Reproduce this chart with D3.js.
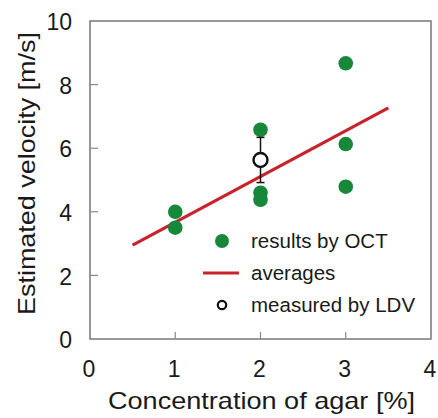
<!DOCTYPE html>
<html>
<head>
<meta charset="utf-8">
<script src="https://cdn.jsdelivr.net/npm/d3@7"></script>
<style>
  body { margin: 0; background: #fff; }
  text { font-family: "Liberation Sans", Arial, sans-serif; fill: #1a1a1a; }
</style>
</head>
<body>
<div id="chart"></div>
<script>
// OCT results (concentration %, velocity m/s)
const octX = [1, 1, 2, 2, 2, 3, 3, 3];
const octY = [4.0, 3.5, 6.58, 4.6, 4.38, 8.67, 6.13, 4.79];

// averages fit line endpoints
const avgX = [0.5, 3.5];
const avgY = [2.95, 7.27];

// LDV measurement with error bar
const ldvX = [2];
const ldvY = [5.63];
const ldvLo = [4.92];
const ldvHi = [6.34];

const xTicks = [0, 1, 2, 3, 4];
const yTicks = [0, 2, 4, 6, 8, 10];
const legendLabels = ["results by OCT", "averages", "measured by LDV"];

const width = 438, height = 418;
const margin = {left: 90, top: 21, right: 7, bottom: 79};

const svg = d3.select("#chart").append("svg")
  .attr("width", width)
  .attr("height", height);

const x = d3.scaleLinear().domain([0, 4]).range([margin.left, width - margin.right]);
const y = d3.scaleLinear().domain([0, 10]).range([height - margin.bottom, margin.top]);

const green = "#17873a", red = "#c8222c";

// frame
svg.append("rect")
  .attr("x", x(0)).attr("y", y(10))
  .attr("width", x(4) - x(0)).attr("height", y(0) - y(10))
  .attr("fill", "none").attr("stroke", "#777").attr("stroke-width", 1.5);

// inward ticks
svg.selectAll(".ytick").data(yTicks.slice(1, -1)).join("line")
  .attr("x1", x(0)).attr("x2", x(0) + 8)
  .attr("y1", d => y(d)).attr("y2", d => y(d))
  .attr("stroke", "#888").attr("stroke-width", 1.2);
svg.selectAll(".xtick").data(xTicks.slice(1, -1)).join("line")
  .attr("x1", d => x(d)).attr("x2", d => x(d))
  .attr("y1", y(0)).attr("y2", y(0) - 7)
  .attr("stroke", "#888").attr("stroke-width", 1.2);

// tick labels
svg.selectAll(".ylab").data(yTicks).join("text")
  .attr("x", 72).attr("y", d => y(d) + 1).attr("dy", "0.36em")
  .attr("text-anchor", "end").attr("font-size", 23)
  .text(d => d);
svg.selectAll(".xlab").data(xTicks).join("text")
  .attr("x", d => x(d) - 1).attr("y", 376.5)
  .attr("text-anchor", "middle").attr("font-size", 23)
  .text(d => d);

// axis titles (reference glyphs are a bit wide, so stretch to its length)
svg.append("text")
  .attr("x", 261.5).attr("y", 408.5)
  .attr("text-anchor", "middle").attr("font-size", 24)
  .attr("textLength", 307).attr("lengthAdjust", "spacingAndGlyphs")
  .text("Concentration of agar [%]");
svg.append("text")
  .attr("transform", "translate(35,173.5) rotate(-90)")
  .attr("text-anchor", "middle").attr("font-size", 24)
  .attr("textLength", 283).attr("lengthAdjust", "spacingAndGlyphs")
  .text("Estimated velocity [m/s]");

// average line
svg.append("line")
  .attr("x1", x(avgX[0])).attr("y1", y(avgY[0]))
  .attr("x2", x(avgX[1])).attr("y2", y(avgY[1]))
  .attr("stroke", red).attr("stroke-width", 3.2);

// OCT points
svg.selectAll(".oct").data(octX.map((d, i) => [d, octY[i]])).join("circle")
  .attr("cx", d => x(d[0])).attr("cy", d => y(d[1]))
  .attr("r", 7.3).attr("fill", green);

// LDV error bar + marker
ldvX.forEach((d, i) => {
  svg.append("line")
    .attr("x1", x(d)).attr("x2", x(d))
    .attr("y1", y(ldvLo[i])).attr("y2", y(ldvHi[i]))
    .attr("stroke", "#111").attr("stroke-width", 1.5);
  [ldvLo[i], ldvHi[i]].forEach(v => {
    svg.append("line")
      .attr("x1", x(d) - 4).attr("x2", x(d) + 4)
      .attr("y1", y(v)).attr("y2", y(v))
      .attr("stroke", "#111").attr("stroke-width", 1.5);
  });
  svg.append("circle")
    .attr("cx", x(d)).attr("cy", y(ldvY[i]))
    .attr("r", 7).attr("fill", "#fff")
    .attr("stroke", "#111").attr("stroke-width", 2.4);
});

// legend
const lgY = [241, 273, 305];
svg.append("circle").attr("cx", 222).attr("cy", lgY[0]).attr("r", 7).attr("fill", green);
svg.append("line").attr("x1", 203).attr("x2", 239).attr("y1", lgY[1]).attr("y2", lgY[1])
  .attr("stroke", red).attr("stroke-width", 3.2);
svg.append("circle").attr("cx", 222).attr("cy", lgY[2]).attr("r", 4.2)
  .attr("fill", "#fff").attr("stroke", "#111").attr("stroke-width", 2.2);
svg.selectAll(".lg").data(legendLabels).join("text")
  .attr("x", 251).attr("y", (d, i) => lgY[i]).attr("dy", "0.36em")
  .attr("font-size", 20.5)
  .text(d => d);
</script>
</body>
</html>
